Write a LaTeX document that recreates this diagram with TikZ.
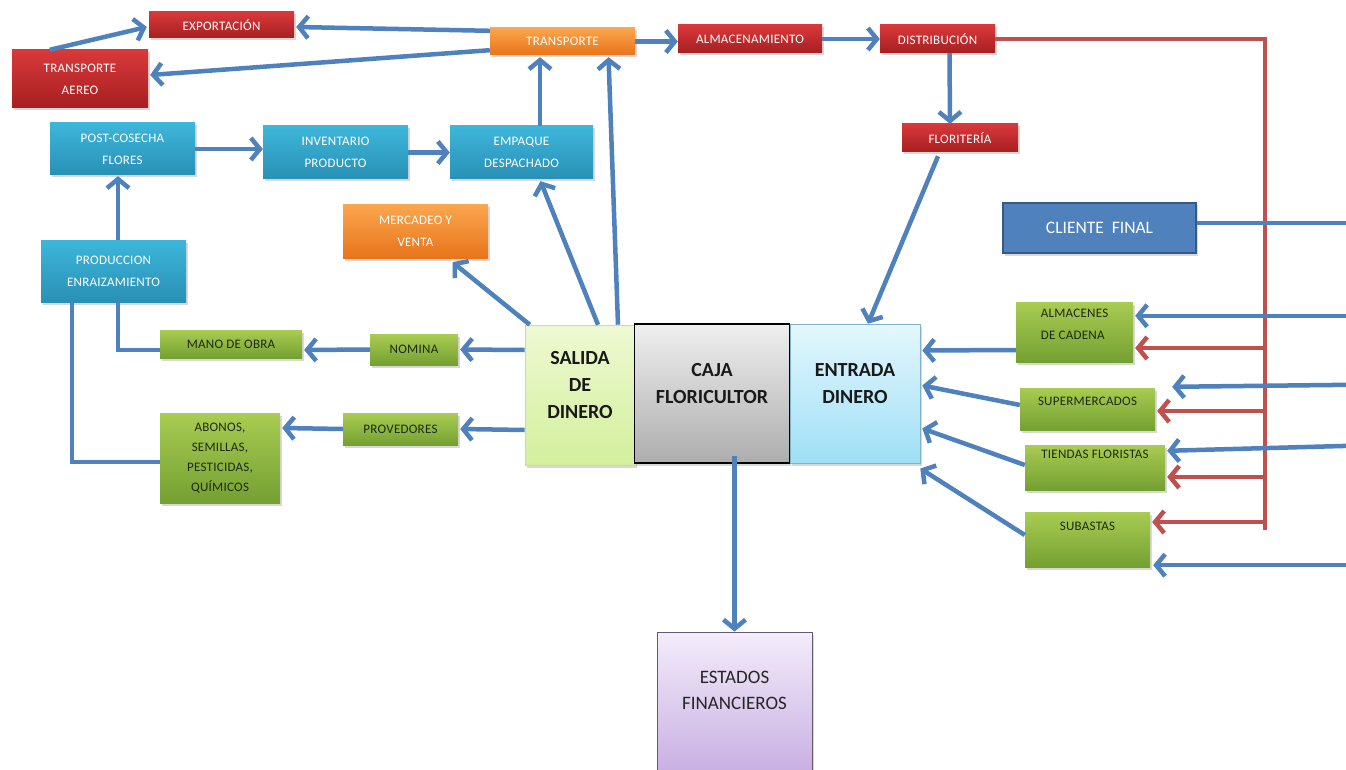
\documentclass[tikz,border=0pt]{standalone}
\usepackage{fontspec}
\setmainfont{Carlito}
\newfontfamily\smallf[LetterSpace=2]{Carlito}
\usetikzlibrary{arrows.meta,calc,shadows}
\definecolor{abl}{HTML}{4F81BD}
\definecolor{rln}{HTML}{C0504D}
\definecolor{rtop}{HTML}{D9393B}
\definecolor{rbot}{HTML}{A61F20}
\definecolor{otop}{HTML}{FAA64E}
\definecolor{obot}{HTML}{E8741A}
\definecolor{ttop}{HTML}{3DB6DA}
\definecolor{tbot}{HTML}{2990B5}
\definecolor{gtop}{HTML}{A9CC52}
\definecolor{gbot}{HTML}{74A032}
\definecolor{stop}{HTML}{EEF9D2}
\definecolor{sbot}{HTML}{D3EF9C}
\definecolor{ctop}{HTML}{EFEFEF}
\definecolor{cbot}{HTML}{ADADAD}
\definecolor{etop}{HTML}{E4F7FD}
\definecolor{ebot}{HTML}{9FDFF6}
\definecolor{ftop}{HTML}{F3ECFA}
\definecolor{fbot}{HTML}{C9B1E3}
\definecolor{dtext}{HTML}{1E2A10}
\tikzset{
  sz/.style 2 args={minimum width=#1pt, minimum height=#2pt},
  box/.style={rectangle, inner sep=2pt, align=center,
    font=\smallf\fontsize{13}{22}\selectfont,
    drop shadow={shadow xshift=1.5pt, shadow yshift=-2.5pt, opacity=0.3}},
  redbox/.style={box, top color=rtop, bottom color=rbot, text=white},
  orbox/.style={box, top color=otop, bottom color=obot, text=white},
  tealbox/.style={box, top color=ttop, bottom color=tbot, text=white},
  grbox/.style={box, top color=gtop, bottom color=gbot, text=dtext},
  bigbox/.style={box, font=\fontsize{20}{27}\selectfont\bfseries, text=black!90},
  salbox/.style={bigbox, top color=stop, bottom color=sbot, draw=sbot!80!black!60, line width=0.6pt},
  cajabox/.style={bigbox, top color=ctop, bottom color=cbot, draw=black, line width=1.2pt},
  entbox/.style={bigbox, top color=etop, bottom color=ebot, draw=ebot!80!black, line width=0.6pt},
  clbox/.style={box, fill=abl, draw=abl!70!black, line width=1.2pt, text=white, font=\fontsize{17.5}{20}\selectfont},
  estbox/.style={box, top color=ftop, bottom color=fbot, draw=fbot!50!black, line width=0.8pt, text=black!85, font=\fontsize{19}{26}\selectfont},
  barrow/.style={draw=abl, line width=4.5pt, -{Straight Barb[length=9pt,width=22pt]}},
  rarrow/.style={draw=rln, line width=4.5pt, -{Straight Barb[length=9pt,width=22pt]}},
  bline/.style={draw=abl, line width=4.5pt},
  redln/.style={draw=rln, line width=4.5pt},
}
\begin{document}
\begin{tikzpicture}[x=1pt,y=-1pt]
\fill[white] (0,0) rectangle (1346,770);
\useasboundingbox (0,0) rectangle (1346,770);

% nodes
\node[redbox, sz={145}{26}] (expo) at (221.5,25) {EXPORTACIÓN};
\node[redbox, sz={136}{58}] (taereo) at (80,79) {TRANSPORTE\\AEREO};
\node[orbox, sz={145}{27}] (transp) at (562.5,41.5) {TRANSPORTE};
\node[redbox, sz={144}{28}] (almac) at (750,39) {ALMACENAMIENTO};
\node[redbox, sz={115}{28}] (distr) at (937.5,39) {DISTRIBUCIÓN};
\node[redbox, sz={116}{28}] (flor) at (960,138) {FLORITERÍA};
\node[tealbox, sz={145}{52}] (postc) at (122.5,149) {POST-COSECHA\\FLORES};
\node[tealbox, sz={145}{53}] (inv) at (335.5,152.5) {INVENTARIO\\PRODUCTO};
\node[tealbox, sz={143}{53}] (emp) at (521.5,152.5) {EMPAQUE\\DESPACHADO};
\node[orbox, sz={145}{53}] (merc) at (415.5,231.5) {MERCADEO Y\\VENTA};
\node[tealbox, sz={145}{62}] (prod) at (113.5,271) {PRODUCCION\\ENRAIZAMIENTO};
\node[clbox, sz={193}{50}] (cliente) at (1099.5,228) {CLIENTE\ \ FINAL};
\node[grbox, sz={142}{28}] (mano) at (231,344) {MANO DE OBRA};
\node[grbox, sz={88}{31}] (nomina) at (414,349.5) {NOMINA};
\node[salbox, sz={110}{140}, text depth=20pt] (salida) at (580,395) {SALIDA\\DE\\DINERO};
\node[cajabox, sz={155}{139}, text depth=20pt] (caja) at (712,393.5) {CAJA\\FLORICULTOR};
\node[entbox, sz={130}{139}, text depth=20pt] (entrada) at (855,393.5) {ENTRADA\\DINERO};
\node[grbox, sz={120}{90}, font=\smallf\fontsize{13}{20}\selectfont] (abonos) at (220,458) {ABONOS,\\SEMILLAS,\\PESTICIDAS,\\QUÍMICOS};
\node[grbox, sz={115}{32}] (prov) at (400.5,429) {PROVEDORES};
\node[grbox, sz={117}{60}, align=left, text depth=15pt] (almcad) at (1074.5,332) {ALMACENES\\DE CADENA};
\node[grbox, sz={135}{42}, text depth=16pt] (super) at (1087.5,409) {SUPERMERCADOS};
\node[grbox, sz={140}{45}, text depth=26pt] (tiendas) at (1095,467.5) {TIENDAS FLORISTAS};
\node[grbox, sz={125}{55}, text depth=26pt] (subastas) at (1087.5,539.5) {SUBASTAS};
\node[estbox, sz={155}{138}, text depth=21pt] (estados) at (734.5,701) {ESTADOS\\FINANCIEROS};

% helper coordinates
\coordinate (rc) at (1265,39);
\coordinate (rb) at (1265,530);
\coordinate (redge) at (1350,0);

% top row
\draw[barrow] ($(transp.north west)+(0,3)$) -- ($(expo.east)+(2,2)$);
\draw[barrow] ($(transp.south west)+(0,-5)$) -- ($(taereo.east)+(2,-4)$);
\draw[barrow] ($(taereo.north west)+(38,0)$) -- ($(expo.west)+(-2,2)$);
\draw[barrow] (transp.east) -- (transp.east -| almac.west);
\draw[barrow] (almac.east) -- (distr.west);
\draw[barrow] ($(distr.south)+(12,0)$) -- ($(flor.north)+(-10,0)$);
\draw[barrow] ($(flor.south)+(-22,4)$) -- ($(entrada.north)+(13,0)$);

% red distribution lines
\draw[redln] (distr.east) -- (rc) -- (rb);
\coordinate (ra1) at ($(almcad.east)+(2,16)$);
\coordinate (ra2) at ($(super.east)+(2,2)$);
\coordinate (ra3) at ($(tiendas.east)+(2,9.5)$);
\coordinate (ra4) at ($(subastas.east)+(2,-17.5)$);
\draw[rarrow] (rb |- ra1) -- (ra1);
\draw[rarrow] (rb |- ra2) -- (ra2);
\draw[rarrow] (rb |- ra3) -- (ra3);
\draw[rarrow] (rb |- ra4) -- (ra4);

% blue lines from the right edge
\coordinate (ba0) at ($(cliente.east)+(0,-5)$);
\coordinate (ba1) at ($(almcad.north east)+(2,14)$);
\coordinate (ba2) at ($(super.north east)+(17,-1)$);
\coordinate (ba3) at ($(tiendas.north east)+(2,6)$);
\coordinate (ba4) at ($(subastas.south east)+(3,-2)$);
\draw[bline] (ba0) -- (redge |- ba0);
\draw[barrow] (redge |- ba1) -- (ba1);
\draw[barrow] ($(redge |- ba2)+(0,-2)$) -- (ba2);
\draw[barrow] ($(redge |- ba3)+(0,-5)$) -- (ba3);
\draw[barrow] (redge |- ba4) -- (ba4);

% green boxes into ENTRADA DINERO
\draw[barrow] ($(almcad.west)+(0,18)$) -- ($(entrada.east)+(2,-43)$);
\draw[barrow] ($(super.west)+(0,-4)$) -- ($(entrada.east)+(2,-8)$);
\draw[barrow] ($(tiendas.west)+(0,-2.5)$) -- ($(entrada.east)+(2,35)$);
\draw[barrow] ($(subastas.west)+(0,-4.5)$) -- ($(entrada.east)+(0,75)$);

% SALIDA DE DINERO outputs
\draw[barrow] ($(salida.north west)+(5,0)$) -- ($(merc.south)+(37,4)$);
\draw[barrow] ($(salida.north)+(18,0)$) -- ($(emp.south)+(19,2)$);
\draw[barrow] ($(salida.north)+(38,0)$) -- ($(transp.south)+(46,2)$);
\draw[barrow] ($(salida.west)+(0,-45)$) -- ($(nomina.east)+(2,0)$);
\draw[barrow] ($(salida.west)+(0,35)$) -- ($(prov.east)+(2,0)$);
\draw[barrow] (nomina.west) -- ($(mano.east)+(2,6)$);
\draw[barrow] (prov.west) -- ($(abonos.east)+(2,-30)$);
\draw[bline] ($(mano.west)+(0,6)$) -| ($(prod.south)+(4.5,0)$);
\draw[bline] ($(abonos.west)+(0,4)$) -| ($(prod.south)+(-41.5,0)$);

% production chain
\draw[barrow] ($(prod.north)+(4.5,0)$) -- ($(postc.south)+(-4.5,1)$);
\draw[barrow] (postc.east) -- (postc.east -| inv.west);
\draw[barrow] (inv.east) -- (emp.west);
\draw[barrow] ($(emp.north)+(18.5,0)$) -- ($(transp.south)+(-22.5,2)$);

% to financial statements
\draw[barrow] ($(caja.south)+(22.5,-8)$) -- (estados.north);
\end{tikzpicture}
\end{document}
